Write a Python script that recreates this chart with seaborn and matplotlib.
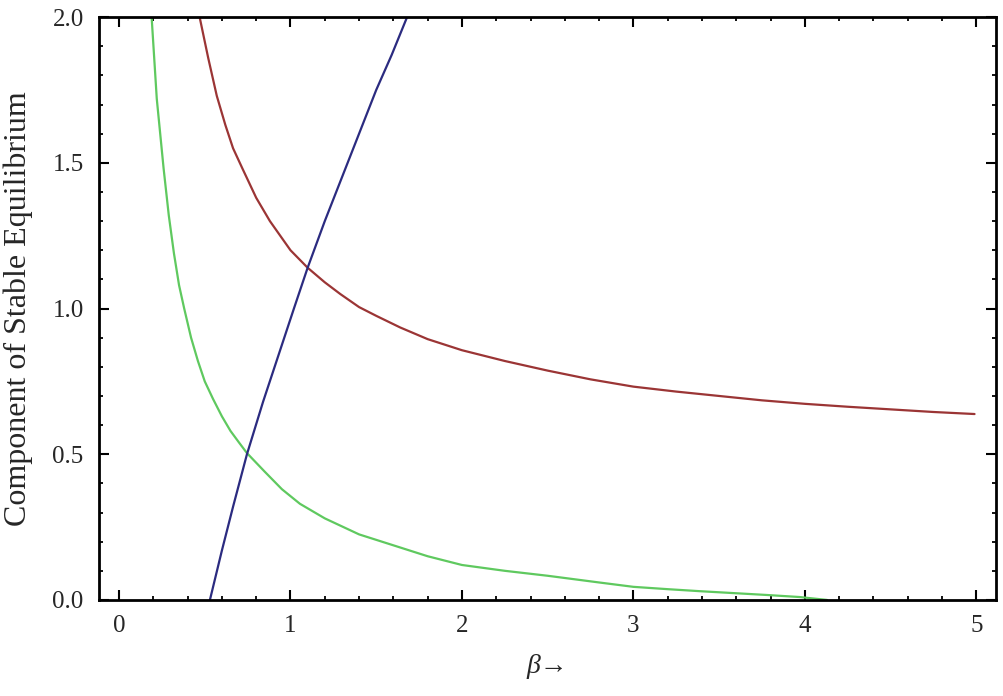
import numpy as np
import pandas as pd
import seaborn as sns
import matplotlib.pyplot as plt
from matplotlib.ticker import MultipleLocator

# values (beta, component)
red_beta = [0.47, 0.52, 0.57, 0.62, 0.665, 0.72, 0.80, 0.88, 0.94, 1.0, 1.10, 1.2, 1.29, 1.4, 1.5,
            1.64, 1.8, 2.0, 2.25, 2.5, 2.75, 3.0, 3.25, 3.5, 3.75, 4.0, 4.25, 4.5, 4.75, 4.99]
red_val = [2.0, 1.86, 1.73, 1.63, 1.55, 1.48, 1.38, 1.30, 1.25, 1.20, 1.14, 1.09, 1.05, 1.005, 0.975,
           0.935, 0.895, 0.857, 0.82, 0.787, 0.757, 0.732, 0.715, 0.70, 0.685, 0.673, 0.663, 0.654, 0.645, 0.638]

green_beta = [0.19, 0.205, 0.22, 0.24, 0.26, 0.29, 0.32, 0.35, 0.38, 0.42, 0.46, 0.50, 0.548, 0.60,
              0.65, 0.70, 0.746, 0.85, 0.95, 1.055, 1.2, 1.4, 1.64, 1.8, 2.0, 2.25, 2.5, 2.8, 3.0,
              3.2, 3.39, 3.6, 3.78, 3.97, 4.13]
green_val = [2.0, 1.86, 1.72, 1.60, 1.48, 1.32, 1.19, 1.08, 1.00, 0.90, 0.82, 0.75, 0.69, 0.63,
             0.58, 0.54, 0.504, 0.44, 0.38, 0.33, 0.28, 0.225, 0.18, 0.15, 0.12, 0.10, 0.083, 0.06, 0.045,
             0.037, 0.03, 0.023, 0.017, 0.01, 0.0]

blue_beta = [0.53, 0.60, 0.665, 0.746, 0.84, 0.93, 1.02, 1.10, 1.20, 1.30, 1.40, 1.50, 1.59, 1.68]
blue_val = [0.0, 0.17, 0.32, 0.50, 0.68, 0.84, 1.00, 1.14, 1.30, 1.45, 1.60, 1.75, 1.87, 2.0]

colors = {"red": "#9b3535", "green": "#5fc95f", "blue": "#2b2b80"}

frames = []
for name, xs, ys in [("red", red_beta, red_val), ("green", green_beta, green_val), ("blue", blue_beta, blue_val)]:
    frames.append(pd.DataFrame({"beta": xs, "value": ys, "curve": name}))
df = pd.concat(frames, ignore_index=True)

sns.set_theme(style="ticks")
plt.rcParams["font.family"] = ["Liberation Serif", "DejaVu Serif"]

fig = plt.figure(figsize=(10.04, 6.96), dpi=100)
ax = fig.add_axes([0.0986, 0.138, 0.8934, 0.8374])

sns.lineplot(data=df, x="beta", y="value", hue="curve", palette=colors,
             estimator=None, sort=False, legend=False, linewidth=1.6, ax=ax)

ax.set_xlim(-0.117, 5.115)
ax.set_ylim(0, 2.0)
ax.xaxis.set_major_locator(MultipleLocator(1))
ax.xaxis.set_minor_locator(MultipleLocator(0.2))
ax.yaxis.set_major_locator(MultipleLocator(0.5))
ax.yaxis.set_minor_locator(MultipleLocator(0.1))
ax.xaxis.set_major_formatter(plt.FuncFormatter(lambda v, p: f"{v:.0f}"))
ax.yaxis.set_major_formatter(plt.FuncFormatter(lambda v, p: f"{v:.1f}"))

ax.tick_params(which="both", direction="in", top=True, right=True, color="black")
ax.tick_params(which="major", length=7, width=1.5, labelsize=18, pad=11)
ax.tick_params(which="minor", length=3, width=1.3)
for s in ax.spines.values():
    s.set_linewidth(2)
    s.set_color("black")

ax.set_xlabel("β→", fontsize=20, style="italic", labelpad=12)
ax.set_ylabel("Component of Stable Equilibrium", fontsize=23, labelpad=14)

fig.savefig("out.png", dpi=100)
